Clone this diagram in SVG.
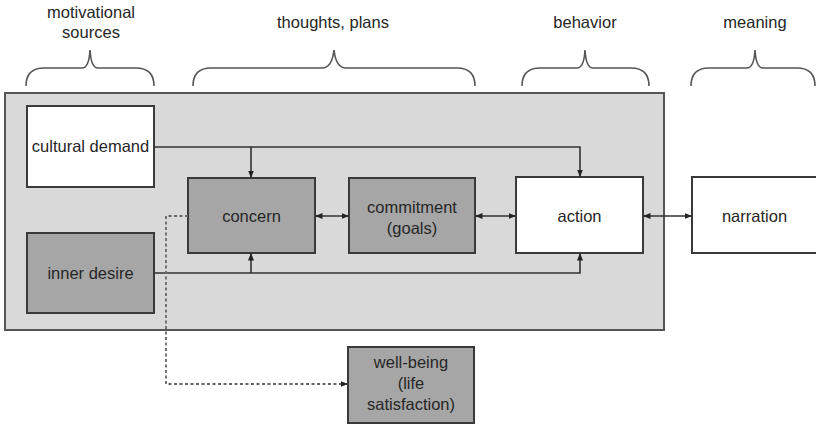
<svg xmlns="http://www.w3.org/2000/svg" width="816" height="425" viewBox="0 0 816 425">
<defs>
<style>
text{font-family:"Liberation Sans",Arial,sans-serif;font-size:16.5px;fill:#262626;text-anchor:middle}
.box{stroke:#3a3a3a;stroke-width:2}
.white{fill:#ffffff}
.gray{fill:#a6a6a6}
.brace{fill:none;stroke:#555;stroke-width:1.6}
.conn{fill:none;stroke:#333;stroke-width:1.6}
.dash{fill:none;stroke:#666;stroke-width:1.8;stroke-dasharray:3 2.5}
</style>
<marker id="ah" viewBox="0 0 10 10" refX="10" refY="5" markerWidth="7.5" markerHeight="7.5" markerUnits="userSpaceOnUse" orient="auto-start-reverse">
<path d="M0,1 L10,5 L0,9 z" fill="#222"/>
</marker>
</defs>

<g id="headers">
<text x="91" y="18">motivational</text>
<text x="91" y="38">sources</text>
<text x="333" y="28">thoughts, plans</text>
<text x="585" y="28">behavior</text>
<text x="755" y="28">meaning</text>
</g>

<g id="braces">
<path class="brace" d="M26,86 Q26,68 44,68 L82,68 Q89,68 90,50 Q91,68 98,68 L136,68 Q154,68 154,86"/>
<path class="brace" d="M193,86 Q193,68 211,68 L322,68 Q332,68 334,50 Q336,68 346,68 L457,68 Q475,68 475,86"/>
<path class="brace" d="M522,86 Q522,68 540,68 L577,68 Q584,68 585,50 Q586,68 593,68 L631,68 Q649,68 649,86"/>
<path class="brace" d="M691,86 Q691,68 709,68 L747,68 Q754,68 755,50 Q756,68 763,68 L797,68 Q815,68 815,86"/>
</g>

<g id="panel">
<rect x="5" y="93" width="659" height="237" fill="#d9d9d9" stroke="#555" stroke-width="2"/>
</g>

<g id="cultural-demand">
<rect class="box white" x="27" y="106" width="127" height="81"/>
<text x="90.5" y="152">cultural demand</text>
</g>

<g id="inner-desire">
<rect class="box gray" x="27" y="233" width="127" height="80"/>
<text x="90.5" y="279">inner desire</text>
</g>

<g id="concern">
<rect class="box gray" x="188" y="178" width="127" height="75"/>
<text x="251.5" y="222">concern</text>
</g>

<g id="commitment">
<rect class="box gray" x="349" y="178" width="126" height="75"/>
<text x="412" y="213">commitment</text>
<text x="412" y="234">(goals)</text>
</g>

<g id="action">
<rect class="box white" x="516" y="177" width="127" height="76"/>
<text x="579.5" y="222">action</text>
</g>

<g id="narration">
<rect class="box white" x="692" y="177" width="126" height="76"/>
<text x="754.5" y="222">narration</text>
</g>

<g id="well-being">
<rect class="box gray" x="348" y="347" width="126" height="76"/>
<text x="411" y="368">well-being</text>
<text x="411" y="389">(life</text>
<text x="411" y="410">satisfaction)</text>
</g>

<g id="connectors">
<path class="conn" d="M154,147 L580,147 L580,177" marker-end="url(#ah)"/>
<path class="conn" d="M251,147 L251,178" marker-end="url(#ah)"/>
<path class="conn" d="M154,273 L580,273 L580,253" marker-end="url(#ah)"/>
<path class="conn" d="M251,273 L251,253" marker-end="url(#ah)"/>
<path class="conn" d="M315,216 L349,216" marker-start="url(#ah)" marker-end="url(#ah)"/>
<path class="conn" d="M475,216 L516,216" marker-start="url(#ah)" marker-end="url(#ah)"/>
<path class="conn" d="M643,216 L692,216" marker-start="url(#ah)" marker-end="url(#ah)"/>
<path class="dash" d="M188,216 L166,216 L166,384 L348,384" marker-end="url(#ah)"/>
</g>
</svg>
